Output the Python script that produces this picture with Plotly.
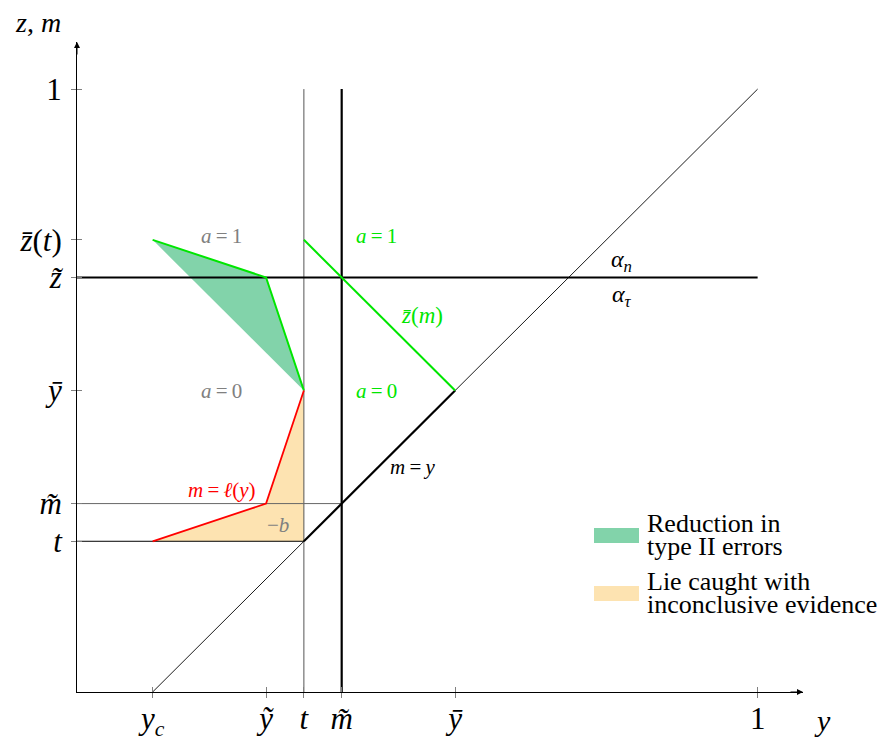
import plotly.graph_objects as go

# ---- data (grid units: x in 1/18, y in 1/16) ----
x_tick_vals = [2, 5, 6, 7, 10, 18]
x_tick_text = ["<i>y<sub>c</sub></i>", "<i>ỹ</i>", "<i>t</i>", "<i>m̃</i>", "<i>ȳ</i>", "1"]
y_tick_vals = [4, 5, 8, 11, 12, 16]
y_tick_text = ["<i>t</i>", "<i>m̃</i>", "<i>ȳ</i>", "<i>z̃</i>", "<i>z̄</i>(<i>t</i>)", "1"]

y_c, y_tilde, t, m_tilde, y_bar, one = 2, 5, 6, 7, 10, 18
z_t, z_m, z_ybar, z_tilde, z_bar_t, z_one = 4, 5, 8, 11, 12, 16

green_region_x = [y_c, y_tilde, t]
green_region_y = [z_bar_t, z_tilde, z_ybar]
orange_region_x = [y_c, y_tilde, t, t]
orange_region_y = [z_t, z_m, z_ybar, z_t]

diag_x = [y_c, one]
diag_y = [0, z_one]
diag_thick_x = [t, y_bar]
diag_thick_y = [z_t, z_ybar]
zbar_m_x = [t, y_bar]
zbar_m_y = [z_bar_t, z_ybar]

legend_green = ["Reduction in", "type II errors"]
legend_orange = ["Lie caught with", "inconclusive evidence"]

GREEN = "#00e600"
RED = "#ff0000"
GRAY = "#808080"
FILL_G = "#82d3aa"
FILL_O = "#fde3b1"
FONT = "Liberation Serif, DejaVu Serif, serif"
EQ = "\u2009=\u2009"

fig = go.Figure()

# filled regions
fig.add_trace(go.Scatter(x=green_region_x, y=green_region_y, fill="toself", fillcolor=FILL_G,
                         mode="none", showlegend=False, hoverinfo="skip"))
fig.add_trace(go.Scatter(x=orange_region_x, y=orange_region_y, fill="toself", fillcolor=FILL_O,
                         mode="none", showlegend=False, hoverinfo="skip"))

def line(xs, ys, color="black", width=1.0):
    fig.add_trace(go.Scatter(x=xs, y=ys, mode="lines", line=dict(color=color, width=width),
                             showlegend=False, hoverinfo="skip", cliponaxis=False))

# reference lines
line([t, t], [0, z_one], "#555555", 1.0)
line([m_tilde, m_tilde], [0, z_one], "black", 2.2)
line([0, one], [z_tilde, z_tilde], "black", 2.2)
line([0, m_tilde], [z_m, z_m], "#666666", 1.0)
line([0, t], [z_t, z_t], "black", 1.0)
line(diag_x, diag_y, "black", 0.9)
line(diag_thick_x, diag_thick_y, "black", 2.2)
line(zbar_m_x, zbar_m_y, GREEN, 2.0)
# region borders
line(green_region_x, green_region_y, GREEN, 2.0)
line(orange_region_x[:3], orange_region_y[:3], RED, 1.8)

def label(x, y, txt, color, size):
    fig.add_annotation(x=x, y=y, text=txt, showarrow=False, xanchor="center", yanchor="middle",
                       font=dict(family=FONT, size=size, color=color))

label(3.83, 12.1, "<i>a</i>" + EQ + "1", GRAY, 21)
label(3.83, 8.0, "<i>a</i>" + EQ + "0", GRAY, 21)
label(7.93, 12.1, "<i>a</i>" + EQ + "1", GREEN, 21)
label(7.93, 8.0, "<i>a</i>" + EQ + "0", GREEN, 21)
label(9.12, 10.0, "<i>z̄</i>(<i>m</i>)", GREEN, 23)
label(14.4, 11.45, "<i>α<sub>n</sub></i>", "black", 24)
label(14.4, 10.5, "<i>α<sub>τ</sub></i>", "black", 24)
label(8.88, 5.97, "<i>m</i>" + EQ + "<i>y</i>", "black", 21)
label(3.83, 5.36, "<i>m</i>" + EQ + "<i>ℓ</i>(<i>y</i>)", RED, 21)
label(5.31, 4.43, "−<i>b</i>", GRAY, 21)

# manual positioning helpers (paper coords of the plot area; plot area spans page px 77..803, 42..692)
def px_x(px):
    return (px - 77) / 726.0

def px_y(py):
    return (692 - py) / 650.0

# axis titles
fig.add_annotation(xref="paper", yref="paper", x=px_x(822), y=px_y(720), text="<i>y</i>",
                   xanchor="center", yanchor="middle",
                   showarrow=False, font=dict(family=FONT, size=30, color="black"))
fig.add_annotation(xref="paper", yref="paper", x=px_x(38), y=px_y(22), text="<i>z</i>, <i>m</i>",
                   xanchor="center", yanchor="middle",
                   showarrow=False, font=dict(family=FONT, size=28, color="black"))

# arrowheads
XMAX, YMAX = 19.2, 17.25
fig.add_annotation(x=XMAX, y=0, ax=-14, ay=0, text="", showarrow=True, arrowhead=2,
                   arrowsize=1.2, arrowwidth=1, arrowcolor="black")
fig.add_annotation(x=0, y=YMAX, ax=0, ay=14, text="", showarrow=True, arrowhead=2,
                   arrowsize=1.2, arrowwidth=1, arrowcolor="black")

# manual legend
for (y0, y1, col) in [(543, 528, FILL_G), (601, 586, FILL_O)]:
    fig.add_shape(type="rect", xref="paper", yref="paper", x0=px_x(594), x1=px_x(639),
                  y0=px_y(y0), y1=px_y(y1), fillcolor=col, line=dict(width=0))
for lines_, ys in [(legend_green, [523, 546]), (legend_orange, [581, 604])]:
    for txt, py in zip(lines_, ys):
        fig.add_annotation(xref="paper", yref="paper", x=px_x(645), y=px_y(py), text=txt,
                           xanchor="left", yanchor="middle", showarrow=False,
                           font=dict(family=FONT, size=26, color="black"))

axis_common = dict(showgrid=False, zeroline=False, showline=True, linecolor="black", linewidth=1,
                   ticks="outside", ticklen=5, tickcolor=GRAY, tickwidth=1, automargin=False,
                   tickfont=dict(family=FONT, size=31, color="black"), fixedrange=True)

fig.update_xaxes(range=[0, XMAX], tickmode="array", tickvals=x_tick_vals, ticktext=x_tick_text,
                 ticklabelstandoff=-6,
                 minor=dict(tickmode="array", tickvals=x_tick_vals, ticks="inside", ticklen=5,
                            tickcolor=GRAY, tickwidth=1),
                 **axis_common)
fig.update_yaxes(range=[0, YMAX], tickmode="array", tickvals=y_tick_vals, ticktext=y_tick_text,
                 ticklabelstandoff=3,
                 minor=dict(tickmode="array", tickvals=y_tick_vals, ticks="inside", ticklen=5,
                            tickcolor=GRAY, tickwidth=1),
                 **axis_common)

# the page body adds an 8px offset, so the figure is 8px smaller and margins shifted by 8px
fig.update_layout(
    width=887, height=734,
    margin=dict(l=69, r=92, t=34, b=50),
    plot_bgcolor="white", paper_bgcolor="white",
    showlegend=False,
)

fig.write_html("out.html")
